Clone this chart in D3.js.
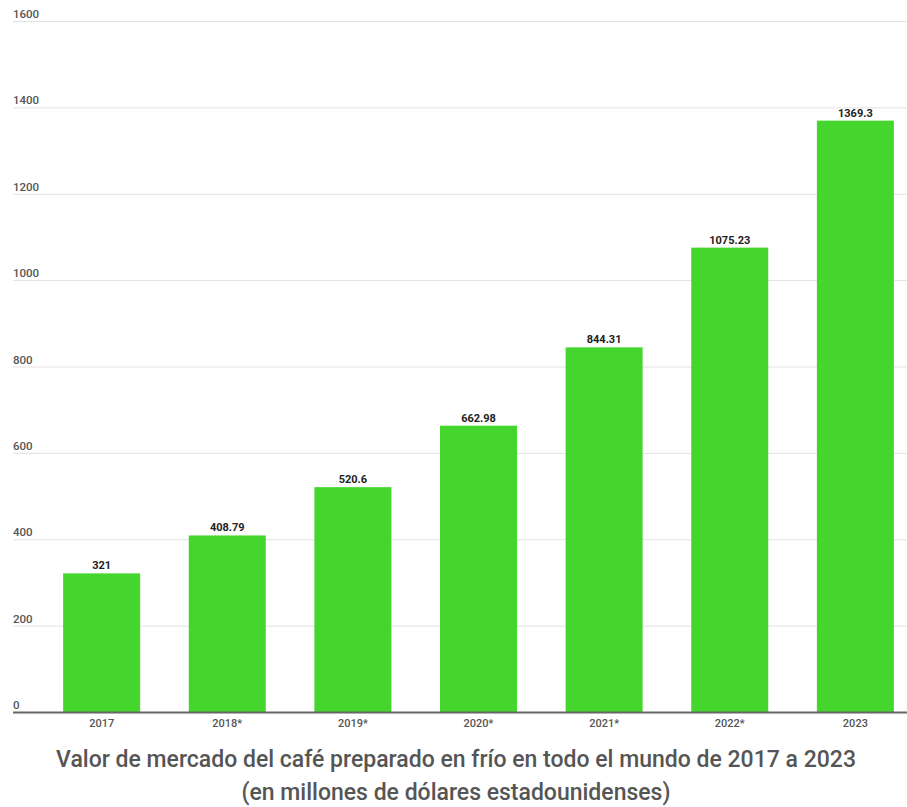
<!DOCTYPE html>
<html>
<head>
<meta charset="utf-8">
<script src="https://cdn.jsdelivr.net/npm/d3@7/dist/d3.min.js"></script>
<style>
  body { margin: 0; background: #fff; }
  svg { font-family: Roboto, "Noto Sans", sans-serif; }
</style>
</head>
<body>
<svg class="chart"></svg>
<script>
var years = ['2017', '2018*', '2019*', '2020*', '2021*', '2022*', '2023'];
var values = [321, 408.79, 520.6, 662.98, 844.31, 1075.23, 1369.3];
var valueLabels = ['321', '408.79', '520.6', '662.98', '844.31', '1075.23', '1369.3'];
var yTicks = [0, 200, 400, 600, 800, 1000, 1200, 1400, 1600];
var titleLines = [
    'Valor de mercado del café preparado en frío en todo el mundo de 2017 a 2023',
    '(en millones de dólares estadounidenses)'
];

var width = 907, height = 807;

var chart = d3.select('.chart')
    .attr('width', width)
    .attr('height', height);

var x = d3.scaleBand()
    .domain(years)
    .range([38, 919])
    .paddingInner(0.387)
    .paddingOuter(0.2);

var y = d3.scaleLinear()
    .domain([0, 1600])
    .range([712, 21]);

// gridlines + y tick labels
var grid = chart.append('g').attr('class', 'grid');
grid.selectAll('line')
    .data(yTicks.slice(1))
    .enter().append('line')
    .attr('x1', 13)
    .attr('x2', width)
    .attr('y1', function(d) { return y(d) + 0.5; })
    .attr('y2', function(d) { return y(d) + 0.5; })
    .attr('stroke', '#e2e2e2')
    .attr('stroke-width', 1);

grid.selectAll('text')
    .data(yTicks)
    .enter().append('text')
    .attr('x', 13)
    .attr('y', function(d) { return y(d) - 3; })
    .attr('font-size', 11.5)
    .attr('font-weight', 500)
    .attr('fill', '#555')
    .text(function(d) { return d; });

// bars
chart.append('g').selectAll('rect')
    .data(values)
    .enter().append('rect')
    .attr('x', function(d, i) { return x(years[i]); })
    .attr('width', x.bandwidth())
    .attr('y', function(d) { return y(d); })
    .attr('height', function(d) { return y(0) - y(d); })
    .attr('fill', '#45d62e');

// value labels
chart.append('g').selectAll('text')
    .data(values)
    .enter().append('text')
    .attr('x', function(d, i) { return x(years[i]) + x.bandwidth() / 2; })
    .attr('y', function(d) { return y(d) - 4; })
    .attr('text-anchor', 'middle')
    .attr('font-size', 11)
    .attr('font-weight', 'bold')
    .attr('fill', '#222')
    .text(function(d, i) { return valueLabels[i]; });

// x axis
var xAxis = chart.append('g')
    .attr('transform', 'translate(0,' + y(0) + ')')
    .call(d3.axisBottom(x).tickSize(0).tickPadding(7));
xAxis.select('.domain').remove();
xAxis.append('line')
    .attr('x1', 13).attr('x2', width)
    .attr('y1', 0.5).attr('y2', 0.5)
    .attr('stroke', '#666').attr('stroke-width', 2);
xAxis.selectAll('text')
    .attr('font-family', 'Roboto, sans-serif')
    .attr('font-size', 11)
    .attr('font-weight', 500)
    .attr('fill', '#555');

// title
chart.append('g').selectAll('text')
    .data(titleLines)
    .enter().append('text')
    .attr('x', 456)
    .attr('y', function(d, i) { return 767 + i * 33; })
    .attr('text-anchor', 'middle')
    .attr('font-size', 23)
    .attr('font-weight', 500)
    .attr('fill', '#555')
    .text(function(d) { return d; });
</script>
</body>
</html>
